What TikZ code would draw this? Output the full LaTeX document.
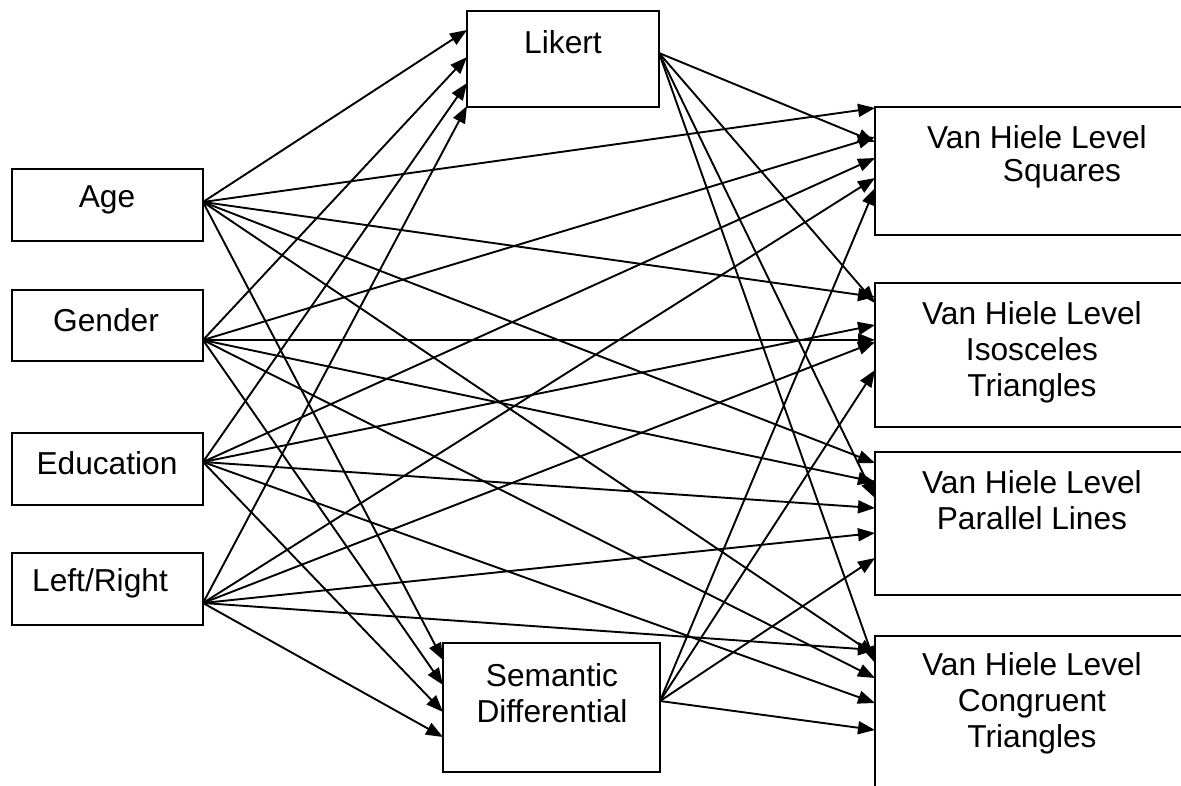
\documentclass[tikz,border=0pt]{standalone}
\usepackage{fontspec}
\setmainfont{Liberation Sans}
\usetikzlibrary{arrows.meta,calc}
\begin{document}
\begin{tikzpicture}[x=1pt,y=-1pt,
  box/.style={draw,line width=1.8pt,anchor=north west,inner sep=0pt,outer sep=0pt},
  lbl/.style={inner sep=0pt,align=center,font=\fontsize{31.7}{36}\selectfont},
  arr/.style={line width=1.9pt,-{Triangle[length=17pt,width=13pt]}}]
\useasboundingbox (0,0) rectangle (1181,785);
\clip (0,0) rectangle (1181,785);
% boxes
\node[box,minimum width=191pt,minimum height=72pt] (age) at (12,169) {};
\node[box,minimum width=191pt,minimum height=71pt] (gender) at (12,290) {};
\node[box,minimum width=191pt,minimum height=72pt] (edu) at (12,433) {};
\node[box,minimum width=191pt,minimum height=72pt] (lr) at (12,553) {};
\node[box,minimum width=192pt,minimum height=96pt] (likert) at (467,11) {};
\node[box,minimum width=217pt,minimum height=129pt] (sem) at (443,643) {};
\node[box,minimum width=340pt,minimum height=128pt] (sq) at (875,107) {};
\node[box,minimum width=340pt,minimum height=144pt] (iso) at (875,283) {};
\node[box,minimum width=340pt,minimum height=143pt] (par) at (875,452) {};
\node[box,minimum width=340pt,minimum height=180pt] (con) at (875,636) {};
% texts
\node[lbl] (tage) at (107,200) {Age};
\node[lbl] (tgender) at (106,320) {Gender};
\node[lbl] (tedu) at (107,463) {Education};
\node[lbl] (tlr) at (100,583) {Left/Right};
\node[lbl] (tlikert) at (563,42) {Likert};
\node[lbl] (tsem) at (552,693) {Semantic\\Differential};
\node[lbl] (tsq1) at (1037,137) {Van Hiele Level};
\node[lbl] (tsq2) at (1062,174) {Squares};
\node[lbl] (tiso) at (1032,352) {Van Hiele Level\\Isosceles\\Triangles};
\node[lbl] (tpar) at (1032,500) {Van Hiele Level\\Parallel Lines};
\node[lbl] (tcon) at (1032,703) {Van Hiele Level\\Congruent\\Triangles};
% source points
\coordinate (ao) at ([yshift=3pt]age.east);
\coordinate (go) at ([yshift=-14.5pt]gender.east);
\coordinate (eo) at ([yshift=7pt]edu.east);
\coordinate (lo) at ([yshift=-14pt]lr.east);
\coordinate (ko) at ([yshift=6pt]likert.east);
\coordinate (so) at ([yshift=6.5pt]sem.east);
% Age
\draw[arr] (ao) -- ([yshift=-19pt]likert.north west);
\draw[arr] (ao) -- ([yshift=-17pt]sem.north west);
\draw[arr] (ao) -- ([yshift=-1pt]sq.north west);
\draw[arr] (ao) -- ([yshift=-14pt]iso.north west);
\draw[arr] (ao) -- ([yshift=-11pt]par.north west);
\draw[arr] (ao) -- ([yshift=-19pt]con.north west);
% Gender
\draw[arr] (go) -- ([yshift=-46pt]likert.north west);
\draw[arr] (go) -- ([yshift=-42pt]sem.north west);
\draw[arr] (go) -- ([yshift=-30pt]sq.north west);
\draw[arr] (go) -- ([yshift=-57pt]iso.north west);
\draw[arr] (go) -- ([yshift=-30pt]par.north west);
\draw[arr] (go) -- ([yshift=-42pt]con.north west);
% Education
\draw[arr] (eo) -- ([yshift=-72pt]likert.north west);
\draw[arr] (eo) -- ([yshift=-69pt]sem.north west);
\draw[arr] (eo) -- ([yshift=-51pt]sq.north west);
\draw[arr] (eo) -- ([yshift=-42pt]iso.north west);
\draw[arr] (eo) -- ([yshift=-56pt]par.north west);
\draw[arr] (eo) -- ([yshift=-67pt]con.north west);
% Left/Right
\draw[arr] (lo) -- ([yshift=-95pt]likert.north west);
\draw[arr] (lo) -- ([yshift=-94pt]sem.north west);
\draw[arr] (lo) -- ([yshift=-71pt]sq.north west);
\draw[arr] (lo) -- ([yshift=-59pt]iso.north west);
\draw[arr] (lo) -- ([yshift=-81pt]par.north west);
\draw[arr] (lo) -- ([yshift=-14pt]con.north west);
% Likert
\draw[arr] (ko) -- ([yshift=-35pt]sq.north west);
\draw[arr] (ko) -- ([yshift=-20pt]iso.north west);
\draw[arr] (ko) -- ([yshift=-46pt]par.north west);
\draw[arr] (ko) -- ([yshift=-27pt]con.north west);
% Semantic
\draw[arr] (so) -- ([yshift=-81pt]sq.north west);
\draw[arr] (so) -- ([yshift=-87pt]iso.north west);
\draw[arr] (so) -- ([yshift=-106pt]par.north west);
\draw[arr] (so) -- ([yshift=-94pt]con.north west);
\end{tikzpicture}
\end{document}
